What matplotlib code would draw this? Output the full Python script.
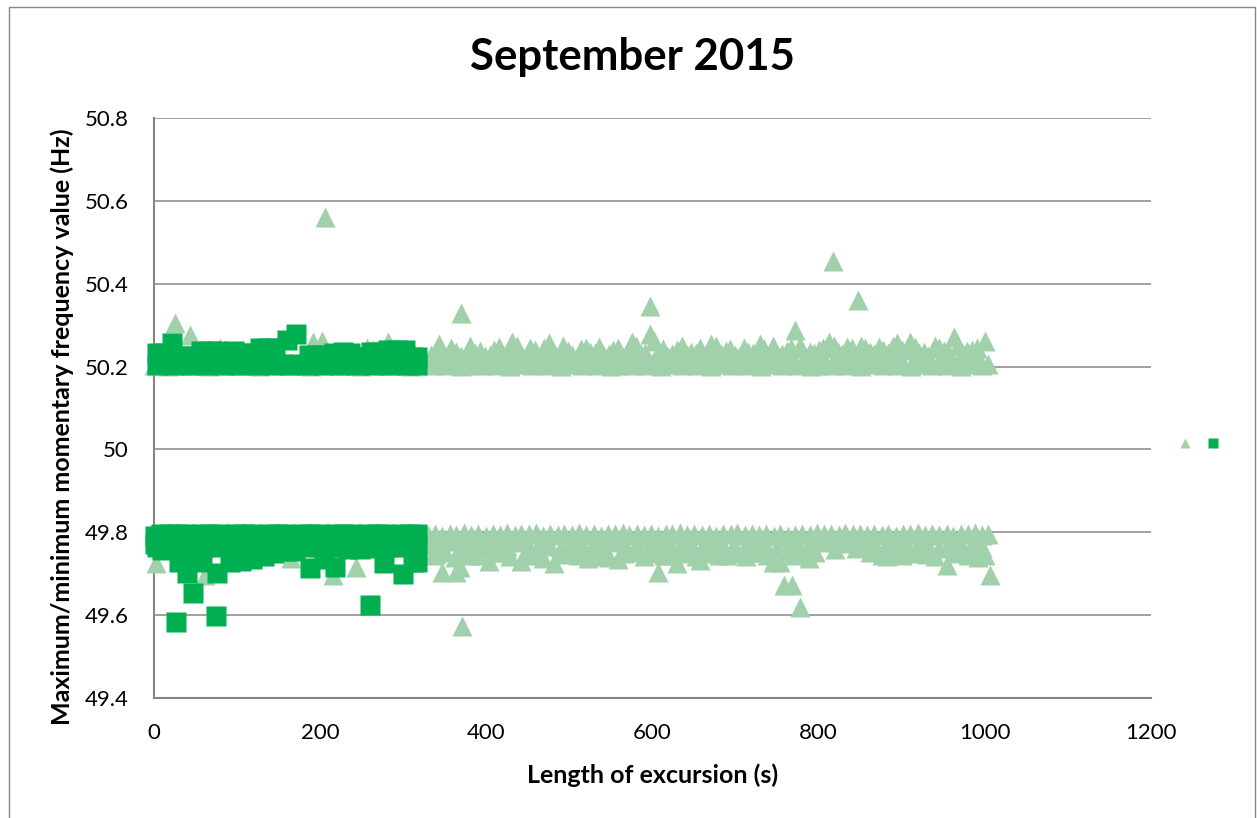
import matplotlib.pyplot as plt
from matplotlib.lines import Line2D
from matplotlib.patches import Rectangle

plt.rcParams['font.family'] = ['Lato', 'DejaVu Sans']

# --- data: (length of excursion s, max/min momentary frequency Hz) ---
# triangles: all excursions
tri_max_base = [
    (0, 50.205), (8, 50.21), (17, 50.202), (25, 50.207), (33, 50.203), (42, 50.21), (51, 50.204),
    (59, 50.208), (68, 50.202), (77, 50.206), (85, 50.211), (94, 50.203), (102, 50.207), (111, 50.204),
    (120, 50.209), (128, 50.202), (137, 50.206), (145, 50.21), (154, 50.203), (163, 50.207), (171, 50.204),
    (180, 50.209), (189, 50.202), (197, 50.206), (206, 50.21), (214, 50.203), (223, 50.207), (232, 50.204),
    (240, 50.209), (249, 50.202), (257, 50.206), (266, 50.21), (275, 50.203), (283, 50.207), (292, 50.204),
    (300, 50.209), (309, 50.202), (318, 50.206), (326, 50.21), (335, 50.203), (343, 50.208), (352, 50.204),
    (361, 50.21), (369, 50.202), (378, 50.205), (386, 50.211), (395, 50.203), (404, 50.206), (412, 50.204),
    (421, 50.209), (429, 50.201), (438, 50.207), (447, 50.21), (455, 50.203), (464, 50.206), (472, 50.205),
    (481, 50.209), (490, 50.202), (498, 50.207), (507, 50.211), (515, 50.203), (524, 50.206), (533, 50.204),
    (541, 50.21), (550, 50.202), (558, 50.205), (567, 50.209), (576, 50.203), (584, 50.208), (593, 50.204),
    (601, 50.21), (610, 50.201), (619, 50.206), (627, 50.209), (636, 50.203), (644, 50.207), (653, 50.204),
    (662, 50.21), (670, 50.202), (679, 50.206), (687, 50.211), (696, 50.203), (705, 50.206), (713, 50.205),
    (722, 50.209), (730, 50.202), (739, 50.207), (748, 50.21), (756, 50.203), (765, 50.206), (773, 50.204),
    (782, 50.209), (791, 50.202), (799, 50.205), (808, 50.21), (816, 50.203), (825, 50.207), (834, 50.204),
    (842, 50.209), (851, 50.201), (859, 50.206), (868, 50.21), (877, 50.203), (885, 50.208), (894, 50.204),
    (902, 50.209), (911, 50.202), (920, 50.206), (928, 50.211), (937, 50.203), (945, 50.207), (954, 50.204),
    (963, 50.209), (971, 50.202), (980, 50.206), (988, 50.21), (997, 50.203), (1004, 50.207),
]
tri_max_mid = [
    (6, 50.222), (80, 50.245), (120, 50.245), (191, 50.26), (202, 50.262), (236, 50.235), (256, 50.245),
    (263, 50.24), (282, 50.26), (300, 50.23), (334, 50.228), (343, 50.255), (352, 50.222), (363, 50.235),
    (375, 50.218), (386, 50.232), (398, 50.225), (409, 50.24), (420, 50.22), (431, 50.26), (442, 50.23),
    (453, 50.245), (464, 50.222), (476, 50.258), (487, 50.228), (498, 50.238), (509, 50.22), (520, 50.245),
    (531, 50.232), (542, 50.226), (553, 50.24), (564, 50.222), (575, 50.26), (586, 50.23), (597, 50.278),
    (608, 50.235), (619, 50.222), (630, 50.24), (641, 50.228), (652, 50.232), (663, 50.22), (671, 50.255),
    (682, 50.23), (693, 50.242), (704, 50.222), (715, 50.235), (729, 50.255), (740, 50.228), (751, 50.22),
    (762, 50.238), (772, 50.288), (783, 50.225), (794, 50.232), (805, 50.245), (812, 50.26), (823, 50.235),
    (834, 50.248), (845, 50.225), (856, 50.245), (867, 50.23), (878, 50.24), (894, 50.258), (910, 50.26),
    (921, 50.232), (932, 50.225), (940, 50.25), (951, 50.238), (963, 50.271), (974, 50.23), (985, 50.24),
    (1000, 50.262),
]
tri_max_upper = [
    (340, 50.24), (357, 50.245), (369, 50.226), (380, 50.25), (392, 50.238), (404, 50.228), (415, 50.248),
    (426, 50.236), (437, 50.25), (448, 50.226), (459, 50.24), (470, 50.245), (481, 50.232), (492, 50.25),
    (503, 50.228), (514, 50.242), (525, 50.236), (536, 50.248), (548, 50.23), (559, 50.245), (570, 50.238),
    (580, 50.25), (591, 50.232), (602, 50.262), (613, 50.242), (624, 50.23), (635, 50.25), (646, 50.236),
    (657, 50.244), (668, 50.23), (677, 50.25), (688, 50.238), (699, 50.228), (710, 50.246), (721, 50.232),
    (734, 50.242), (745, 50.25), (756, 50.23), (767, 50.245), (778, 50.25), (789, 50.236), (800, 50.24),
    (818, 50.25), (828, 50.23), (840, 50.244), (851, 50.25), (862, 50.236), (873, 50.248), (884, 50.232),
    (889, 50.25), (900, 50.24), (916, 50.248), (927, 50.236), (945, 50.245), (957, 50.23), (968, 50.25),
    (979, 50.238), (991, 50.245),
]
tri_max_peaks = [(25, 50.305), (43, 50.277), (206, 50.56), (369, 50.33), (597, 50.346), (817, 50.456), (847, 50.36)]

tri_min_top = [
    (0, 49.795), (40, 49.793), (90, 49.796), (140, 49.794), (190, 49.797), (240, 49.793), (290, 49.795),
    (330, 49.794), (338, 49.797), (347, 49.792), (356, 49.796), (364, 49.793), (373, 49.798), (382, 49.794),
    (390, 49.797), (399, 49.792), (408, 49.796), (416, 49.794), (425, 49.798), (434, 49.793), (442, 49.796),
    (451, 49.795), (460, 49.798), (468, 49.792), (477, 49.796), (486, 49.794), (494, 49.797), (503, 49.793),
    (512, 49.798), (520, 49.794), (529, 49.796), (538, 49.792), (546, 49.797), (555, 49.795), (564, 49.798),
    (572, 49.793), (581, 49.796), (590, 49.794), (598, 49.797), (607, 49.792), (616, 49.796), (624, 49.795),
    (633, 49.798), (642, 49.793), (650, 49.796), (659, 49.794), (668, 49.797), (676, 49.792), (685, 49.796),
    (694, 49.795), (702, 49.798), (711, 49.793), (720, 49.796), (728, 49.794), (737, 49.797), (746, 49.792),
    (754, 49.795), (763, 49.791), (772, 49.794), (780, 49.797), (789, 49.793), (798, 49.798), (806, 49.795),
    (815, 49.797), (824, 49.794), (832, 49.798), (841, 49.795), (850, 49.797), (858, 49.793), (867, 49.796),
    (876, 49.794), (884, 49.797), (893, 49.792), (902, 49.796), (910, 49.795), (919, 49.798), (928, 49.793),
    (936, 49.796), (945, 49.794), (954, 49.797), (962, 49.792), (971, 49.796), (980, 49.795), (988, 49.798),
    (997, 49.793), (1004, 49.796),
]
tri_min_mid = [
    (334, 49.772), (347, 49.765), (360, 49.778), (373, 49.768), (386, 49.775), (399, 49.762), (412, 49.77),
    (425, 49.766), (438, 49.776), (451, 49.764), (464, 49.772), (477, 49.768), (490, 49.762), (503, 49.774),
    (516, 49.766), (529, 49.77), (542, 49.762), (555, 49.776), (568, 49.765), (581, 49.772), (594, 49.768),
    (607, 49.763), (620, 49.774), (633, 49.766), (646, 49.771), (659, 49.762), (672, 49.775), (685, 49.767),
    (698, 49.77), (711, 49.764), (724, 49.774), (737, 49.766), (750, 49.762), (763, 49.77), (776, 49.765),
    (789, 49.772), (802, 49.776), (815, 49.778), (828, 49.774), (841, 49.777), (854, 49.768), (867, 49.772),
    (880, 49.764), (893, 49.77), (906, 49.766), (919, 49.774), (932, 49.768), (945, 49.763), (958, 49.771),
    (971, 49.766), (984, 49.772), (997, 49.764),
]
tri_min_low = [
    (336, 49.745), (340, 49.748), (350, 49.752), (362, 49.74), (376, 49.75), (382, 49.744), (390, 49.744),
    (412, 49.752), (420, 49.752), (428, 49.742), (452, 49.75), (460, 49.746), (468, 49.738), (490, 49.748),
    (500, 49.75), (510, 49.744), (532, 49.752), (540, 49.742), (548, 49.74), (566, 49.75), (580, 49.752),
    (590, 49.743), (600, 49.75), (614, 49.745), (620, 49.745), (636, 49.752), (645, 49.75), (652, 49.742),
    (668, 49.75), (680, 49.744), (690, 49.746), (700, 49.75), (712, 49.742), (720, 49.752), (728, 49.752),
    (738, 49.744), (762, 49.752), (770, 49.745), (780, 49.748), (795, 49.752), (820, 49.76), (845, 49.762),
    (862, 49.752), (870, 49.755), (876, 49.745), (890, 49.75), (900, 49.744), (918, 49.752), (930, 49.748),
    (940, 49.742), (962, 49.75), (970, 49.752), (980, 49.745), (996, 49.752), (1000, 49.745),
]
tri_min_dips = [
    (3, 49.725), (61, 49.697), (165, 49.738), (215, 49.697), (243, 49.717), (347, 49.705), (363, 49.704),
    (368, 49.717), (371, 49.574), (403, 49.73), (442, 49.73), (482, 49.726), (522, 49.738), (558, 49.736),
    (607, 49.705), (629, 49.726), (657, 49.733), (745, 49.728), (753, 49.728), (758, 49.673), (768, 49.673),
    (778, 49.62), (788, 49.738), (882, 49.743), (909, 49.75), (955, 49.721), (992, 49.74), (1006, 49.697),
]

# squares: excursions up to ~320 s
sq_max_base = [
    (4, 50.205), (14, 50.206), (24, 50.204), (34, 50.207), (44, 50.205), (54, 50.206), (64, 50.204),
    (74, 50.207), (84, 50.205), (94, 50.206), (104, 50.204), (114, 50.207), (124, 50.205), (134, 50.206),
    (144, 50.204), (154, 50.207), (164, 50.205), (174, 50.206), (184, 50.204), (194, 50.207), (204, 50.205),
    (214, 50.206), (224, 50.204), (234, 50.207), (244, 50.205), (254, 50.206), (264, 50.204), (274, 50.207),
    (284, 50.205), (294, 50.206), (304, 50.204), (312, 50.207), (317, 50.205),
]
sq_max_top = [
    (4, 50.232), (12, 50.233), (22, 50.257), (35, 50.225), (46, 50.226), (56, 50.238), (66, 50.237),
    (76, 50.238), (86, 50.236), (96, 50.238), (106, 50.233), (116, 50.232), (127, 50.245), (137, 50.246),
    (146, 50.244), (160, 50.264), (171, 50.278), (186, 50.228), (196, 50.227), (206, 50.229), (217, 50.233),
    (227, 50.234), (236, 50.232), (246, 50.223), (252, 50.222), (261, 50.235), (271, 50.234), (282, 50.24),
    (292, 50.241), (302, 50.239), (310, 50.223), (317, 50.222),
]
sq_min_top = [
    (1, 49.79), (8, 49.795), (18, 49.796), (28, 49.795), (38, 49.796), (48, 49.794), (58, 49.796),
    (68, 49.795), (78, 49.796), (88, 49.794), (98, 49.796), (108, 49.795), (118, 49.796), (128, 49.794),
    (138, 49.796), (148, 49.795), (158, 49.796), (168, 49.794), (178, 49.796), (188, 49.795), (198, 49.796),
    (208, 49.794), (218, 49.796), (228, 49.795), (238, 49.796), (248, 49.794), (258, 49.796), (268, 49.795),
    (278, 49.796), (288, 49.794), (298, 49.796), (308, 49.795), (317, 49.795),
]
sq_min_mid = [
    (1, 49.772), (10, 49.768), (20, 49.765), (30, 49.766), (40, 49.764), (50, 49.767), (60, 49.765),
    (70, 49.766), (80, 49.764), (90, 49.767), (100, 49.765), (110, 49.766), (120, 49.764), (130, 49.767),
    (140, 49.765), (150, 49.766), (160, 49.764), (170, 49.767), (180, 49.765), (190, 49.766), (200, 49.764),
    (210, 49.767), (220, 49.765), (230, 49.766), (240, 49.764), (250, 49.767), (260, 49.765), (270, 49.766),
    (280, 49.764), (290, 49.767), (300, 49.765), (310, 49.766), (317, 49.764),
]
sq_min_low = [
    (4, 49.765), (10, 49.757), (30, 49.728), (45, 49.73), (58, 49.728), (92, 49.728), (105, 49.73),
    (118, 49.735), (132, 49.742), (145, 49.75), (158, 49.755), (170, 49.754), (205, 49.735), (234, 49.76),
    (248, 49.759), (262, 49.761), (312, 49.728), (317, 49.729),
]
sq_min_dips = [
    (26, 49.584), (40, 49.702), (47, 49.654), (75, 49.598), (76, 49.702), (188, 49.714), (218, 49.716),
    (260, 49.624), (277, 49.726), (300, 49.70),
]

x_ticks = [0, 200, 400, 600, 800, 1000, 1200]
y_ticks = [49.4, 49.6, 49.8, 50.0, 50.2, 50.4, 50.6, 50.8]
y_tick_labels = ['49.4', '49.6', '49.8', '50', '50.2', '50.4', '50.6', '50.8']

light = '#a0d1aa'
dark = '#00b050'
grey = '#868686'

W, H = 1257, 818
fig = plt.figure(figsize=(W / 100, H / 100), dpi=100)
ax = fig.add_axes([154 / W, 1 - 698 / H, (1151 - 154) / W, (698 - 118) / H])

tri = (tri_max_base + tri_max_mid + tri_max_upper + tri_max_peaks
       + tri_min_top + tri_min_mid + tri_min_low + tri_min_dips)
sq = sq_max_base + sq_max_top + sq_min_top + sq_min_mid + sq_min_low + sq_min_dips
tx, ty = zip(*tri)
sx, sy = zip(*sq)

ax.plot(tx, ty, ls='none', marker='^', ms=14.4, color=light, mec='none', zorder=3, clip_on=False)
ax.plot(sx, sy, ls='none', marker='s', ms=14.4, color=dark, mec='none', zorder=4, clip_on=False)

ax.set_xlim(0, 1200)
ax.set_ylim(49.4, 50.8)
ax.set_xticks(x_ticks)
ax.set_yticks(y_ticks)
ax.set_yticklabels(y_tick_labels)
ax.tick_params(length=0, pad=18, labelsize=16)
ax.yaxis.grid(True, color=grey, lw=1.1)
ax.set_axisbelow(True)
for s in ['top', 'right']:
    ax.spines[s].set_visible(False)
for s in ['left', 'bottom']:
    ax.spines[s].set_color(grey)
    ax.spines[s].set_linewidth(1.5)

ax.set_xlabel('Length of excursion (s)', fontsize=18, fontweight='bold', labelpad=15)
ax.set_ylabel('Maximum/minimum momentary frequency value (Hz)', fontsize=18, fontweight='bold',
              labelpad=8, y=0.467)
fig.text(632 / W, 1 - 57 / H, 'September 2015', ha='center', va='center', fontsize=31.5, fontweight='bold')

handles = [
    Line2D([], [], ls='none', marker='^', ms=7, color=light, mec='none'),
    Line2D([], [], ls='none', marker='s', ms=6.5, color=dark, mec='none'),
]
fig.legend(handles, ['', ''], ncol=2, loc='center', bbox_to_anchor=(1199 / W, 1 - 444 / H),
           frameon=False, handlelength=1.0, handletextpad=0, columnspacing=1.0, fontsize=10)

fig.patches.append(Rectangle((9 / W, -0.05), (1255 - 9) / W, 1.05 - 7 / H, transform=fig.transFigure,
                             fill=False, edgecolor=grey, lw=1))

fig.savefig('out.png', dpi=100)
